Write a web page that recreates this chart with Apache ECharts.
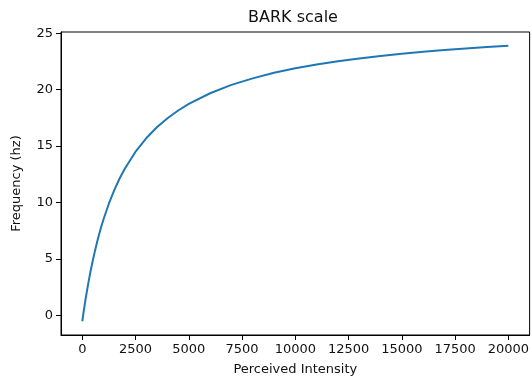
<!DOCTYPE html>
<html>
<head>
<meta charset="utf-8">
<script src="https://cdn.jsdelivr.net/npm/echarts@6/dist/echarts.min.js"></script>
<style>
    html, body {margin: 0; padding: 0; background: #fff;}
    #chart {width: 532px; height: 381px;}
</style>
</head>
<body>
<div id="chart"></div>
<script>
// values
var intensity = [0, 50, 100, 150, 200, 250, 300, 400, 500, 600, 700, 800, 900, 1000, 1250, 1500, 1750, 2000,
    2500, 3000, 3500, 4000, 4500, 5000, 6000, 7000, 8000, 9000, 10000, 11000, 12000, 13000, 14000,
    15000, 16000, 17000, 18000, 19000, 20000];
var frequency = [-0.53, 0.14, 0.77, 1.38, 1.95, 2.50, 3.03, 4.01, 4.92, 5.75, 6.53, 7.24, 7.91, 8.53, 9.91, 11.09, 12.12, 13.01,
    14.50, 15.69, 16.66, 17.46, 18.15, 18.73, 19.68, 20.42, 21.00, 21.49, 21.89, 22.23, 22.52, 22.77, 22.99,
    23.18, 23.35, 23.51, 23.65, 23.77, 23.89];
var xTicks = [0, 2500, 5000, 7500, 10000, 12500, 15000, 17500, 20000];
var yTicks = [0, 5, 10, 15, 20, 25];

var font = "DejaVu Sans";
var ink = "#111";
var myChart = echarts.init(document.getElementById("chart"));

var points = [];
for (var i = 0; i < intensity.length; i++) {
    points.push([intensity[i], frequency[i]]);
}

var plain = function (v) {
    return String(v);
};

var option = {
    animation: false,
    title: {
        text: "BARK scale",
        left: 288,
        textAlign: "center",
        top: 5,
        textStyle: {fontFamily: font, fontSize: 16, fontWeight: "normal", color: ink}
    },
    grid: {
        left: 61, right: 1, top: 32, bottom: 45,
        show: true, borderColor: "#000", borderWidth: 1
    },
    xAxis: {
        type: "value",
        min: -1000,
        max: 21000,
        name: "Perceived Intensity",
        nameLocation: "middle",
        nameGap: 28,
        nameTextStyle: {fontFamily: font, fontSize: 13, color: ink},
        axisLine: {show: true, onZero: false, lineStyle: {color: "#000", width: 1}},
        axisTick: {show: true, length: 5, lineStyle: {color: "#000"}, customValues: xTicks},
        axisLabel: {fontFamily: font, fontSize: 13, color: ink, margin: 8, customValues: xTicks, formatter: plain},
        splitLine: {show: false}
    },
    yAxis: {
        type: "value",
        min: -1.75,
        max: 25.11,
        name: "Frequency (hz)",
        nameLocation: "middle",
        nameGap: 38,
        nameTextStyle: {fontFamily: font, fontSize: 13, color: ink},
        axisLine: {show: true, onZero: false, lineStyle: {color: "#000", width: 1}},
        axisTick: {show: true, length: 5, lineStyle: {color: "#000"}, customValues: yTicks},
        axisLabel: {fontFamily: font, fontSize: 13, color: ink, margin: 8, customValues: yTicks, formatter: plain},
        splitLine: {show: false}
    },
    series: [{
        type: "line",
        data: points,
        smooth: false,
        showSymbol: false,
        symbol: "none",
        lineStyle: {color: "#1f77b4", width: 2}
    }]
};
myChart.setOption(option);
</script>
</body>
</html>
